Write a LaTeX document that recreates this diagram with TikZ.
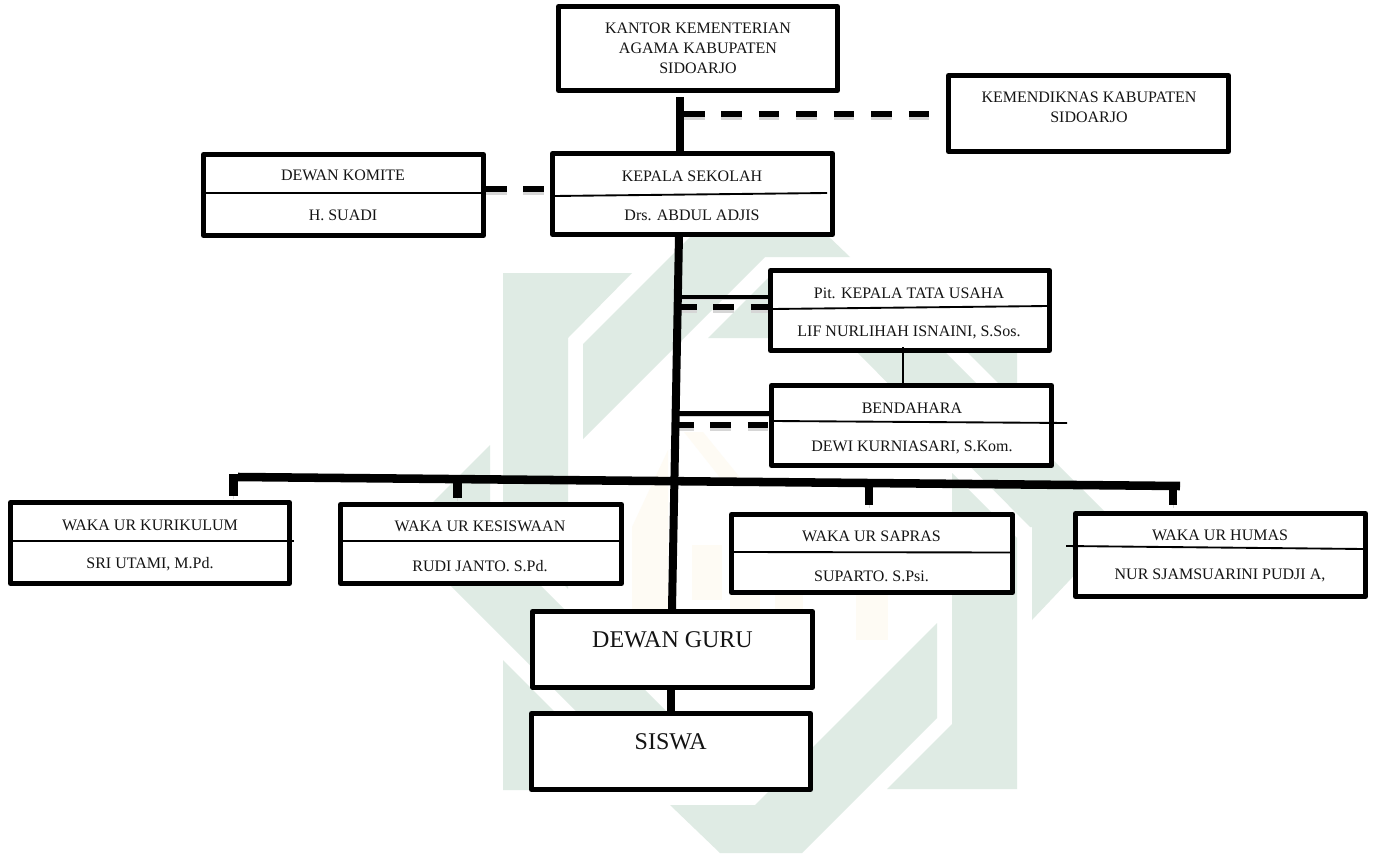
\documentclass[tikz,border=0pt]{standalone}
\usepackage{fontspec}
\setmainfont{Liberation Serif}
\tikzset{
  x=0.75pt,y=-0.75pt,
  orgbox/.style={draw=black,fill=white,line width=3.75pt,line join=round,inner sep=0pt},
  txt/.style={font=\fontsize{12}{15}\selectfont,align=center,inner sep=0pt,text=black!92},
  bigtxt/.style={font=\fontsize{18}{22}\selectfont,align=center,inner sep=0pt,text=black!92},
  softshade/.style={preaction={draw=black!16,transform canvas={yshift=-2pt}}},
  heavy/.style={draw=black,line width=6pt},
  bar/.style={draw=black,line width=6.4pt,softshade},
  stub/.style={draw=black,line width=6.6pt,softshade},
  link/.style={draw=black,line width=3.4pt,softshade},
  dashlink/.style={draw=black,line width=4.5pt,dash pattern=on 15.4pt off 12.7pt,
    preaction={draw=black!16,line width=4.5pt,dash pattern=on 15.4pt off 12.7pt,transform canvas={yshift=-2pt}}},
  divider/.style={draw=black,line width=1.4pt},
  thinlink/.style={draw=black,line width=1.2pt},
  wmgreen/.style={fill=wmg,draw=none},
  wmyellow/.style={fill=wmy,draw=none}
}
\definecolor{wmg}{HTML}{DFEBE4}
\definecolor{wmy}{HTML}{FEFBF4}
\begin{document}
\begin{tikzpicture}
\useasboundingbox (0,0) rectangle (1375,856);
% watermark
\fill[white] (0,0) rectangle (1375,856);
\path[wmyellow] (632,610) -- (632,527) -- (668,450) -- (668,610) -- cycle;
\path[wmyellow] (684,432) -- (703,432) -- (742,480) -- (722,480) -- cycle;
\path[wmyellow] (692,545) rectangle (722,600);
\path[wmyellow] (730,545) rectangle (760,612);
\path[wmyellow] (775,545) rectangle (803,612);
\path[wmyellow] (856,590) rectangle (888,640);
\path[wmgreen] (850,257) -- (765,257) -- (583,439) -- (583,344) -- (718,209) -- (800,209) -- cycle;
\path[wmgreen] (708,338) -- (778,268) -- (860,268) -- (860,338) -- cycle;
\path[wmgreen] (503,273) -- (632,273) -- (568,338) -- (568,589) -- (503,524) -- cycle;
\path[wmgreen] (490,445) -- (490,535) -- (667,712) -- (577,712) -- (400,535) -- cycle;
\path[wmgreen] (503,660) -- (568,725) -- (568,790) -- (503,790) -- cycle;
\path[wmgreen] (670,805) -- (755,805) -- (937,623) -- (937,718) -- (802,853) -- (720,853) -- cycle;
\path[wmgreen] (952,473) -- (1017,538) -- (1017,789) -- (887,789) -- (952,724) -- cycle;
\path[wmgreen] (855,350) -- (943,350) -- (1120,527) -- (1030,527) -- cycle;
\path[wmgreen] (1032,527) -- (1120,527) -- (1032,620) -- cycle;
\path[wmgreen] (952,272) -- (1017,272) -- (1017,402) -- (952,337) -- cycle;

% boxes
\node[orgbox,minimum width=279*0.75pt,minimum height=84*0.75pt] (kantor) at (698,48.5) {};
\node[orgbox,minimum width=280*0.75pt,minimum height=76*0.75pt] (diknas) at (1088.5,113.5) {};
\node[orgbox,minimum width=280*0.75pt,minimum height=81*0.75pt] (komite) at (343.5,195) {};
\node[orgbox,minimum width=280*0.75pt,minimum height=81*0.75pt] (kepala) at (692.5,194) {};
\node[orgbox,minimum width=279*0.75pt,minimum height=80*0.75pt] (tata) at (910,310.5) {};
\node[orgbox,minimum width=280*0.75pt,minimum height=80*0.75pt] (bend) at (911.5,425.5) {};
\node[orgbox,minimum width=279*0.75pt,minimum height=81*0.75pt] (kurik) at (150,543) {};
\node[orgbox,minimum width=281*0.75pt,minimum height=79*0.75pt] (kesis) at (481,544) {};
\node[orgbox,minimum width=281*0.75pt,minimum height=78*0.75pt] (sapras) at (872,553.5) {};
\node[orgbox,minimum width=290*0.75pt,minimum height=83*0.75pt] (humas) at (1220.5,555) {};
\node[orgbox,minimum width=280*0.75pt,minimum height=76*0.75pt] (guru) at (672.5,649.5) {};
\node[orgbox,minimum width=279*0.75pt,minimum height=76*0.75pt] (siswa) at (671,751.5) {};

% free ends and junctions of the connectors
\coordinate (topstart) at (680,97);
\coordinate (topdash) at (684,114);
\coordinate (topdashend) at (930,114);
\coordinate (komdash) at (486,189);
\coordinate (trunktop) at (679,235);
\coordinate (trunkbot) at (672,609);
\coordinate (tataj) at (679,297);
\coordinate (tatad) at (676,307);
\coordinate (bendj) at (676,413.5);
\coordinate (bendd) at (673,425);
\coordinate (barl) at (238,477);
\coordinate (barr) at (1180,486);
\coordinate (s1a) at (233.5,474);
\coordinate (s1b) at (233.5,496);
\coordinate (s2a) at (457.5,480);
\coordinate (s2b) at (457.5,498);
\coordinate (s3a) at (869,484);
\coordinate (s3b) at (869,505);
\coordinate (s4a) at (1173,486);
\coordinate (s4b) at (1173,505);
\coordinate (tb) at (903,347);

% connectors
\draw[heavy] (topstart) -- (topstart |- kepala.north);
\draw[dashlink] (topdash) -- (topdashend);
\draw[dashlink] (komdash) -- (komdash -| kepala.west);
\draw[link] (tataj) -- (tataj -| tata.west);
\draw[dashlink] (tatad) -- (tatad -| tata.west);
\draw[link] (bendj) -- (bendj -| bend.west);
\draw[dashlink] (bendd) -- (bendd -| bend.west);
\draw[bar] (barl) -- (barr);
\draw[heavy] (trunktop) -- (trunkbot);
\draw[stub] (s1a) -- (s1b);
\draw[stub] (s2a) -- (s2b);
\draw[stub] (s3a) -- (s3b);
\draw[stub] (s4a) -- (s4b);
\draw[heavy] (guru.south -| siswa.north) -- (siswa.north);
\draw[thinlink] (tb) -- (tb |- bend.north);

% dividers
\coordinate (dka) at (205,193); \coordinate (dkb) at (482,193);
\coordinate (dpa) at (554,196); \coordinate (dpb) at (827,193);
\coordinate (dta) at (772,309); \coordinate (dtb) at (1048,306);
\coordinate (dba) at (773,421); \coordinate (dbb) at (1067,423);
\coordinate (dua) at (12,541);  \coordinate (dub) at (294,541);
\coordinate (dsa) at (343,541); \coordinate (dsb) at (620,541);
\coordinate (dra) at (733,552); \coordinate (drb) at (1011,552.5);
\coordinate (dha) at (1066,546); \coordinate (dhb) at (1364,549);
\draw[divider] (dka) -- (dkb);
\draw[divider] (dpa) -- (dpb);
\draw[divider] (dta) -- (dtb);
\draw[divider] (dba) -- (dbb);
\draw[divider] (dua) -- (dub);
\draw[divider] (dsa) -- (dsb);
\draw[divider] (dra) -- (drb);
\draw[divider] (dha) -- (dhb);

% texts
\node[txt] (t1) at (698,48) {KANTOR KEMENTERIAN\\AGAMA KABUPATEN\\SIDOARJO};
\node[txt] (t2) at (1089,107.5) {KEMENDIKNAS KABUPATEN\\SIDOARJO};
\node[txt] (t3) at (343,175) {DEWAN KOMITE};
\node[txt] (t4) at (343,215) {H. SUADI};
\node[txt] (t5) at (692,176) {KEPALA SEKOLAH};
\node[txt] (t6) at (692,215) {Drs. ABDUL ADJIS};
\node[txt] (t7) at (909,293) {Pit. KEPALA TATA USAHA};
\node[txt] (t8) at (909,332) {LIF NURLIHAH ISNAINI, S.Sos.};
\node[txt] (t9) at (912,408) {BENDAHARA};
\node[txt] (t10) at (912,447) {DEWI KURNIASARI, S.Kom.};
\node[txt] (t11) at (150,525) {WAKA UR KURIKULUM};
\node[txt] (t12) at (150,564) {SRI UTAMI, M.Pd.};
\node[txt] (t13) at (480,526) {WAKA UR KESISWAAN};
\node[txt] (t14) at (480,566) {RUDI JANTO. S.Pd.};
\node[txt] (t15) at (871.5,536) {WAKA UR SAPRAS};
\node[txt] (t16) at (871.5,576) {SUPARTO. S.Psi.};
\node[txt] (t17) at (1220,535) {WAKA UR HUMAS};
\node[txt] (t18) at (1220,575) {NUR SJAMSUARINI PUDJI A,};
\node[bigtxt] (t19) at (672.5,640) {DEWAN GURU};
\node[bigtxt] (t20) at (670.7,742) {SISWA};
\end{tikzpicture}
\end{document}
